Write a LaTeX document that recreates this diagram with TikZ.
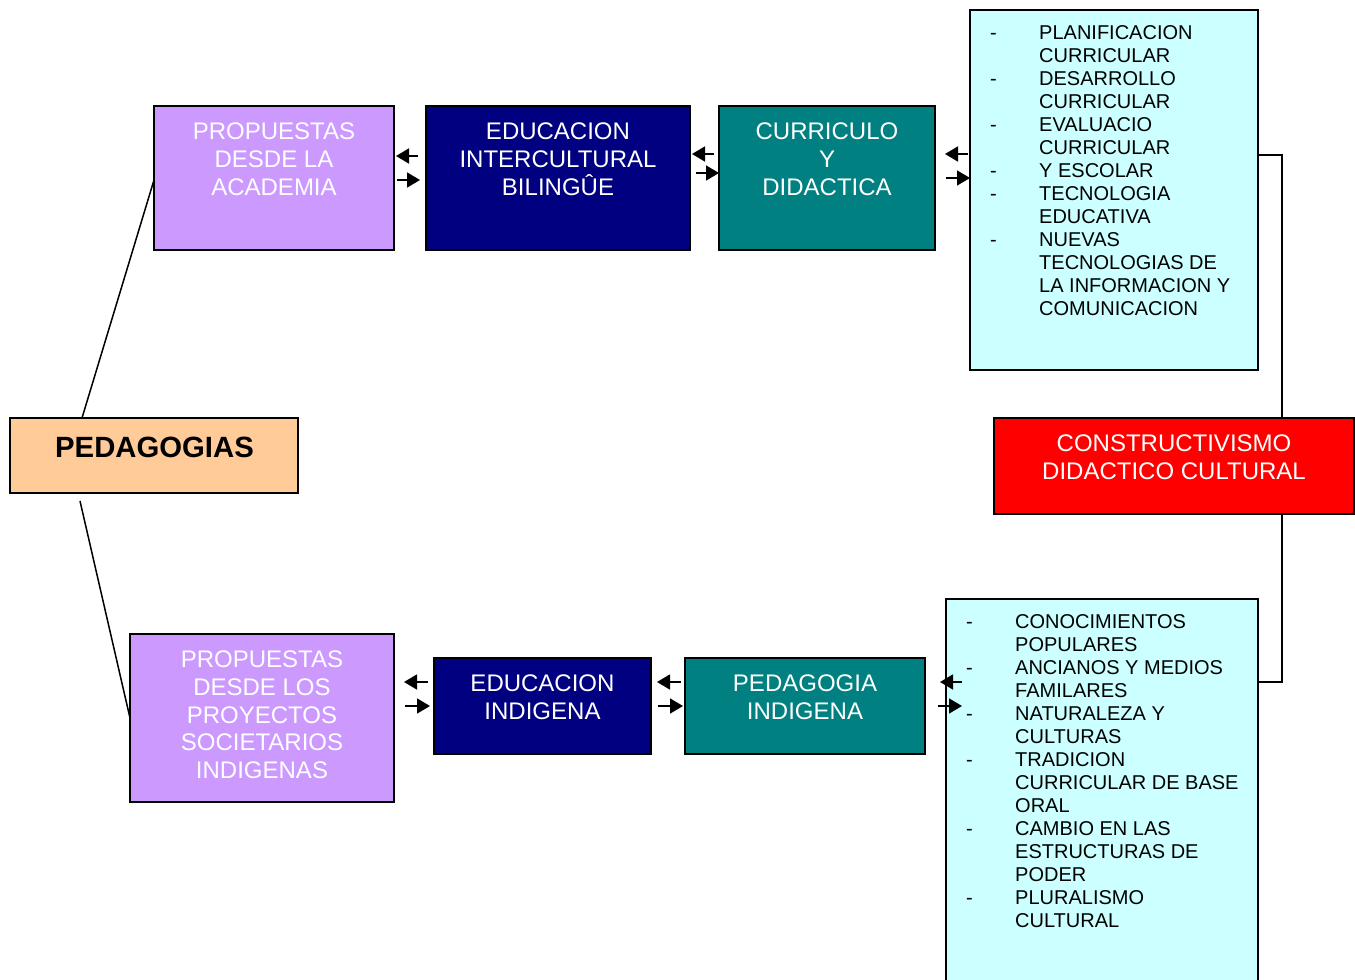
\documentclass[tikz,border=0pt]{standalone}
\usepackage{fontspec}
\setmainfont{Liberation Sans}
\usetikzlibrary{arrows.meta,calc}
\definecolor{lav}{HTML}{CC99FF}
\definecolor{navyc}{HTML}{000080}
\definecolor{tealc}{HTML}{008080}
\definecolor{lcyan}{HTML}{CCFFFF}
\definecolor{peach}{HTML}{FFCC99}
\definecolor{redc}{HTML}{FF0000}
\newcommand{\fst}[1]{\rule{0pt}{#1}}
\tikzset{
  box/.style={draw=black, line width=1.8pt, inner sep=0pt, outer sep=0pt},
  ttl/.style={anchor=north, align=center, inner sep=0pt, text=white, font=\fontsize{24}{27.6}\selectfont},
  lst/.style={anchor=north west, align=left, inner sep=0pt, text=black, font=\fontsize{20}{23}\selectfont},
  conn/.style={line width=1.5pt, draw=black},
  arr/.style={line width=1.6pt, -{Triangle[length=13pt,width=15pt]}}
}
\begin{document}
\begin{tikzpicture}[x=1pt,y=-1pt]
\useasboundingbox (0,0) rectangle (1355,980);
\fill[white] (0,0) rectangle (1355,980);
% boxes
\node[box, fill=peach, minimum width=288pt, minimum height=75pt] (ped) at (154,455.5) {};
\node[box, fill=lav, minimum width=240pt, minimum height=144pt] (acad) at (274,178) {};
\node[box, fill=navyc, minimum width=264pt, minimum height=144pt] (eib) at (558,178) {};
\node[box, fill=tealc, minimum width=216pt, minimum height=144pt] (cur) at (827,178) {};
\node[box, fill=lcyan, minimum width=288pt, minimum height=360pt] (toplist) at (1114,190) {};
\node[box, fill=redc, minimum width=360pt, minimum height=96pt] (constr) at (1174,466) {};
\node[box, fill=lcyan, minimum width=312pt, minimum height=391pt] (botlist) at (1102,794.5) {};
\node[box, fill=tealc, minimum width=240pt, minimum height=96pt] (pedind) at (805,706) {};
\node[box, fill=navyc, minimum width=217pt, minimum height=96pt] (edind) at (542.5,706) {};
\node[box, fill=lav, minimum width=264pt, minimum height=168pt] (indprop) at (262,718) {};
% texts
\node[inner sep=0pt, font=\fontsize{29.3}{33}\selectfont\bfseries] (pedt) at (154.5,447) {PEDAGOGIAS};
\node[ttl] (acadt) at (274,121.6) {\fst{18pt}PROPUESTAS\\DESDE LA\\ACADEMIA};
\node[ttl] (eibt) at (558,121.6) {\fst{18pt}EDUCACION\\INTERCULTURAL\\BILINGÛE};
\node[ttl] (curt) at (827,121.6) {\fst{18pt}CURRICULO\\Y\\DIDACTICA};
\node[ttl] (constrt) at (1174,433.6) {\fst{18pt}CONSTRUCTIVISMO\\DIDACTICO CULTURAL};
\node[ttl] (pedindt) at (805,673.6) {\fst{18pt}PEDAGOGIA\\INDIGENA};
\node[ttl] (edindt) at (542.5,673.6) {\fst{18pt}EDUCACION\\INDIGENA};
\node[ttl] (indpropt) at (262,649.6) {\fst{18pt}PROPUESTAS\\DESDE LOS\\PROYECTOS\\SOCIETARIOS\\INDIGENAS};
% top list
\node[lst] (topdash) at (990,23.2) {\fst{16pt}-\\\mbox{}\\-\\\mbox{}\\-\\\mbox{}\\-\\-\\\mbox{}\\-};
\node[lst] (toptext) at (1039,23.2) {\fst{16pt}PLANIFICACION\\CURRICULAR\\DESARROLLO\\CURRICULAR\\EVALUACIO\\CURRICULAR\\Y ESCOLAR\\TECNOLOGIA\\EDUCATIVA\\NUEVAS\\TECNOLOGIAS DE\\LA INFORMACION Y\\COMUNICACION};
% bottom list
\node[lst] (botdash) at (966,612.2) {\fst{16pt}-\\\mbox{}\\-\\\mbox{}\\-\\\mbox{}\\-\\\mbox{}\\\mbox{}\\-\\\mbox{}\\\mbox{}\\-};
\node[lst] (bottext) at (1015,612.2) {\fst{16pt}CONOCIMIENTOS\\POPULARES\\ANCIANOS Y MEDIOS\\FAMILARES\\NATURALEZA Y\\CULTURAS\\TRADICION\\CURRICULAR DE BASE\\ORAL\\CAMBIO EN LAS\\ESTRUCTURAS DE\\PODER\\PLURALISMO\\CULTURAL};
% connectors
\draw[conn] ([xshift=72pt]ped.north west) -- ([yshift=-2pt]acad.west);
\draw[conn] ([xshift=70pt,yshift=-8pt]ped.south west) -- (indprop.west);
\draw[conn] ([yshift=35pt]toplist.east) -| ([xshift=108pt]constr.north);
\draw[conn] ([xshift=108pt]constr.south) |- ([yshift=112.5pt]botlist.east);
% arrows top row
\draw[arr] ([shift={(24,-22)}]acad.east) -- ([shift={(2,-22)}]acad.east);
\draw[arr] ([shift={(3,2)}]acad.east) -- ([shift={(-6,2)}]eib.west);
\draw[arr] ([shift={(-5,-24)}]cur.west) -- ([shift={(2,-24)}]eib.east);
\draw[arr] ([shift={(6,-5)}]eib.east) -- ([shift={(0,-5)}]cur.west);
\draw[arr] ([shift={(-2,-36)}]toplist.west) -- ([shift={(10,-24)}]cur.east);
\draw[arr] ([shift={(11,0)}]cur.east) -- ([shift={(0,-12)}]toplist.west);
% arrows bottom row
\draw[arr] ([shift={(-6,-24)}]edind.west) -- ([shift={(10,-36)}]indprop.east);
\draw[arr] ([shift={(11,-12)}]indprop.east) -- ([shift={(-4,0)}]edind.west);
\draw[arr] ([shift={(-4,-24)}]pedind.west) -- ([shift={(6,-24)}]edind.east);
\draw[arr] ([shift={(7,0)}]edind.east) -- ([shift={(-2,0)}]pedind.west);
\draw[arr] ([shift={(16,-112.5)}]botlist.west) -- ([shift={(15,-24)}]pedind.east);
\draw[arr] ([shift={(13,0)}]pedind.east) -- ([shift={(16,-88.5)}]botlist.west);
\end{tikzpicture}
\end{document}
